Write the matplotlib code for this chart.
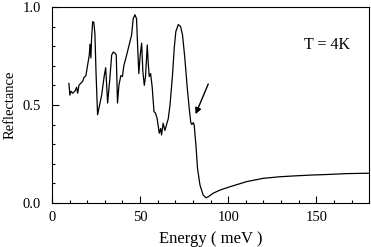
import matplotlib.pyplot as plt
from matplotlib.ticker import MultipleLocator

# reflectance spectrum
energy = [9.6, 10.2, 10.8, 11.7, 13.0, 14.0, 14.6, 15.3, 16.3, 17.4, 18.2, 19.3,
          20.0, 21.2, 21.6, 22.1, 22.5, 23.1, 23.8, 24.4, 25.0, 25.9, 26.7, 28.2,
          29.7, 30.5, 31.6, 32.9, 33.9, 34.8, 35.7, 36.5, 37.2, 38.0, 39.1, 40.0,
          40.8, 42.4, 44.2, 45.2, 46.1, 47.1, 48.0, 48.6, 49.3, 50.1, 50.9, 51.6,
          52.4, 53.1, 54.1, 54.6, 55.2, 56.0, 56.9, 57.9, 58.8, 59.7, 60.9, 61.7,
          62.2, 63.1, 64.1, 66.0, 67.0, 68.4, 69.4, 70.3, 71.7, 73.0, 74.1, 75.4,
          76.8, 77.9, 78.8, 79.4, 80.2, 80.7, 81.7, 82.6, 84.0, 85.8, 87.4, 88.7,
          91.5, 95.3, 101.0, 110.4, 119.9, 129.3, 138.8, 148.2, 157.7, 167.2, 180.0]
refl = [0.61, 0.55, 0.57, 0.56, 0.57, 0.59, 0.56, 0.60, 0.61, 0.62, 0.64, 0.65,
        0.69, 0.755, 0.81, 0.74, 0.84, 0.925, 0.92, 0.86, 0.67, 0.45, 0.485, 0.55,
        0.65, 0.69, 0.51, 0.64, 0.755, 0.77, 0.765, 0.755, 0.51, 0.60, 0.65, 0.645,
        0.70, 0.755, 0.82, 0.857, 0.94, 0.96, 0.94, 0.806, 0.66, 0.755, 0.815, 0.67,
        0.60, 0.645, 0.806, 0.72, 0.645, 0.66, 0.59, 0.466, 0.458, 0.43, 0.356, 0.38,
        0.347, 0.407, 0.37, 0.43, 0.50, 0.65, 0.79, 0.874, 0.91, 0.90, 0.857, 0.74,
        0.585, 0.483, 0.41, 0.40, 0.41, 0.40, 0.296, 0.177, 0.092, 0.041, 0.027, 0.032,
        0.05, 0.066, 0.083, 0.109, 0.126, 0.134, 0.139, 0.143, 0.146, 0.15, 0.152]

arrow_tail = (88.7, 0.607)
arrow_head = (81.5, 0.453)

plt.rcParams['font.family'] = ['Liberation Serif', 'DejaVu Serif']
plt.rcParams['font.size'] = 10.5

fig = plt.figure(figsize=(3.71, 2.47), dpi=100)
ax = fig.add_axes([0.140, 0.178, 0.855, 0.794])
ax.plot(energy, refl, color='black', lw=0.9)

ax.annotate('', xy=arrow_head, xytext=arrow_tail,
            arrowprops=dict(arrowstyle='-|>', color='black', lw=1.0,
                            mutation_scale=9, shrinkA=0, shrinkB=0))
ax.text(156.0, 0.806, 'T = 4K', ha='center', va='center', fontsize=11.5)

ax.set_xlim(0, 180)
ax.set_ylim(0, 1.0)
ax.xaxis.set_major_locator(MultipleLocator(50))
ax.xaxis.set_minor_locator(MultipleLocator(10))
ax.yaxis.set_major_locator(MultipleLocator(0.5))
ax.yaxis.set_minor_locator(MultipleLocator(0.1))
ax.yaxis.set_major_formatter(plt.FormatStrFormatter('%.1f'))
ax.tick_params(which='both', direction='in', top=False, right=False)
ax.tick_params(which='major', length=5, width=0.8)
ax.tick_params(which='minor', length=2.5, width=0.8)
ax.tick_params(axis='x', pad=6)
ax.tick_params(axis='y', pad=8)
ax.set_xlabel('Energy ( meV )', fontsize=12, labelpad=5)
ax.set_ylabel('Reflectance', fontsize=10.5, labelpad=4)

fig.savefig('out.png', dpi=100)
